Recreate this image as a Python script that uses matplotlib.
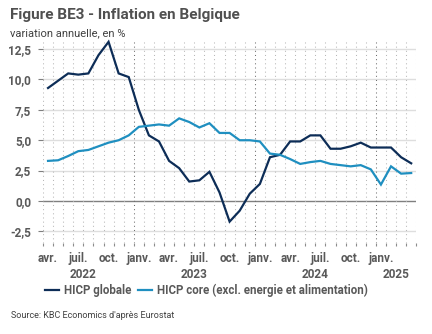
import matplotlib
matplotlib.use("Agg")
import matplotlib.pyplot as plt
from matplotlib.ticker import FuncFormatter
import numpy as np

plt.rcParams['font.family'] = ['Roboto', 'DejaVu Sans']

# monthly series, avr. 2022 -> avr. 2025
months_fr = ['janv.', 'févr.', 'mars', 'avr.', 'mai', 'juin', 'juil.',
             'août', 'sept.', 'oct.', 'nov.', 'déc.']
start_year, start_month = 2022, 4
hicp_total = [9.3, 9.9, 10.5, 10.4, 10.5, 12.0, 13.1, 10.5, 10.2,
              7.5, 5.4, 4.9, 3.3, 2.7, 1.6, 1.7, 2.4, 0.7, -1.7, -0.8, 0.6,
              1.4, 3.6, 3.8, 4.9, 4.9, 5.4, 5.4, 4.3, 4.3, 4.5, 4.8, 4.4,
              4.4, 4.4, 3.6, 3.1]
hicp_core = [3.3, 3.35, 3.7, 4.1, 4.2, 4.5, 4.8, 5.0, 5.4,
             6.1, 6.2, 6.3, 6.2, 6.8, 6.5, 6.05, 6.4, 5.6, 5.6, 5.0, 5.0,
             4.9, 3.9, 3.8, 3.45, 3.05, 3.2, 3.3, 3.05, 2.95, 2.85, 2.95, 2.6,
             1.35, 2.85, 2.25, 2.3]
legend_labels = ['HICP globale', 'HICP core (excl. energie et alimentation)']
year_label_pos = {2022: 3.5, 2023: 14.5, 2024: 26.5, 2025: 34.5}

navy = '#0d2d57'
cyan = '#1f8fc0'
txt = '#595959'

n = len(hicp_total)
x = np.arange(n)
month_idx = [(start_month - 1 + i) % 12 for i in range(n)]

fig = plt.figure(figsize=(4.32, 3.34), dpi=100)
ax = fig.add_axes([0.0995, 0.271, 0.864, 0.611])

ax.set_xlim(-0.5, n - 0.5)
ax.set_ylim(-3.5, 13.3)

# horizontal grid + zero line
for v in np.arange(-2.5, 12.6, 2.5):
    ax.axhline(v, color='#7f7f7f' if v == 0 else '#dedede', lw=1.0, zorder=1)

# dotted month separators, darker at the year change
for i in range(n + 1):
    jan = i < n and month_idx[i] == 0
    ax.axvline(i - 0.5, color='#6e6e6e' if jan else '#b8b8b8', lw=0.75,
               ls=(0, (1, 3.0)), zorder=1)

ax.plot(x, hicp_total, color=navy, lw=1.6, zorder=3, label=legend_labels[0],
        solid_joinstyle='miter', clip_on=False)
ax.plot(x, hicp_core, color=cyan, lw=1.6, zorder=3, label=legend_labels[1],
        solid_joinstyle='miter')

for s in ax.spines.values():
    s.set_visible(False)

ax.set_yticks(np.arange(-2.5, 12.6, 2.5))
ax.yaxis.set_major_formatter(FuncFormatter(lambda v, p: f'{v:.1f}'.replace('.', ',')))
ax.tick_params(axis='y', length=3.5, width=0.8, color='#7f7f7f', pad=5,
               labelsize=8.5, labelcolor=txt)
for lab in ax.get_yticklabels():
    lab.set_fontweight('bold')

# quarterly labels, last one in janv. 2025
tick_pos = [i for i in range(n - 3) if month_idx[i] % 3 == 0]
ax.set_xticks(tick_pos)
ax.set_xticklabels([months_fr[month_idx[i]] for i in tick_pos],
                   fontweight='bold')
ax.set_xticks(np.arange(-0.5, n), minor=True)
ax.tick_params(axis='x', which='major', length=0, pad=6, labelsize=8.5,
               labelcolor=txt)
ax.tick_params(axis='x', which='minor', length=2.5, width=0.8, color='#8c8c8c')

for yr, pos in year_label_pos.items():
    ax.annotate(str(yr), xy=(pos, 0), xycoords=('data', 'axes fraction'),
                xytext=(0, -17.5), textcoords='offset points', ha='center',
                va='top', fontsize=8.5, fontweight='bold', color=txt)

fig.legend(loc='center', bbox_to_anchor=(0.478, 0.13), ncol=2, frameon=False,
           handlelength=1.2, handletextpad=0.4, columnspacing=0.6,
           prop={'weight': 'bold', 'size': 8.3}, labelcolor=txt)

fig.text(0.022, 0.942, 'Figure BE3 - Inflation en Belgique', fontsize=11,
         fontweight='bold', color='#505050', va='baseline')
fig.text(0.022, 0.892, 'variation annuelle, en %', fontsize=8,
         color='#404040', va='baseline')
fig.text(0.026, 0.048, "Source: KBC Economics d'après Eurostat", fontsize=6.5,
         color='#404040', va='baseline')

fig.savefig('out.png', dpi=100)
